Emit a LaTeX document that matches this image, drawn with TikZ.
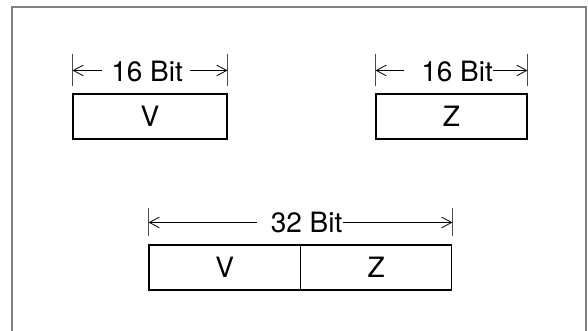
\documentclass[tikz,border=0pt]{standalone}
\usepackage{fontspec}
\setmainfont{TeX Gyre Heros}
\usetikzlibrary{arrows.meta, positioning, calc}
\definecolor{framecol}{HTML}{808080}
\tikzset{
  field/.style={draw, line width=0.8pt, minimum height=33.75pt, inner sep=0pt},
  dimtick/.style={draw=black!70, line width=0.9pt},
  dimline/.style={line width=0.6pt, ->},
  dimlabel/.style={inner sep=0pt, anchor=base west},
}

\begin{document}
\begin{tikzpicture}[x=0.75pt, y=-0.75pt, >={Straight Barb[length=7.5pt, width=8pt]},
  font=\fontsize{21}{25}\selectfont]
\useasboundingbox (0,0) rectangle (588,331);
% outer frame, open at the bottom
\draw[framecol, line width=1.1pt] (12,331) -- (12,7) -- (586,7) -- (586,331);
% single fields
\node[field, minimum width=115.5pt] (v1) at (150,116.5) {V};
\node[field, minimum width=113.25pt] (z1) at (451.5,116.5) {Z};
% combined word
\node[field, minimum width=113.6pt] (v2) at (224.75,267.5) {V};
\node[field, minimum width=113.6pt, right=-0.8pt of v2] (z2) {Z};
% dimension marks: left box / right box / label / text x / gaps / tick and line heights
\foreach \b/\e/\t/\tx/\gl/\gr/\lo/\hi/\ln in
    {v1/v1/16 Bit/111/7/5/5.25/29.25/17.25,
     z1/z1/16 Bit/421/13/0/5.25/29.25/17.25,
     v2/z2/32 Bit/270.5/10/0/6/27/16.5} {
  \draw[dimtick] ([yshift=\lo pt]\b.north west) -- ([yshift=\hi pt]\b.north west);
  \draw[dimtick] ([yshift=\lo pt]\e.north east) -- ([yshift=\hi pt]\e.north east);
  \coordinate (\b l) at ([yshift=\ln pt]\b.north west);
  \coordinate (\b r) at ([yshift=\ln pt]\e.north east);
  \node[dimlabel] (\b t) at ([yshift=9pt]\b.north west -| \tx,0) {\t};
  \draw[dimline] ([xshift=-\gl pt]\b t.west |- \b l) -- (\b l);
  \draw[dimline] ([xshift=\gr pt]\b t.east |- \b r) -- (\b r);
}
\end{tikzpicture}
\end{document}
